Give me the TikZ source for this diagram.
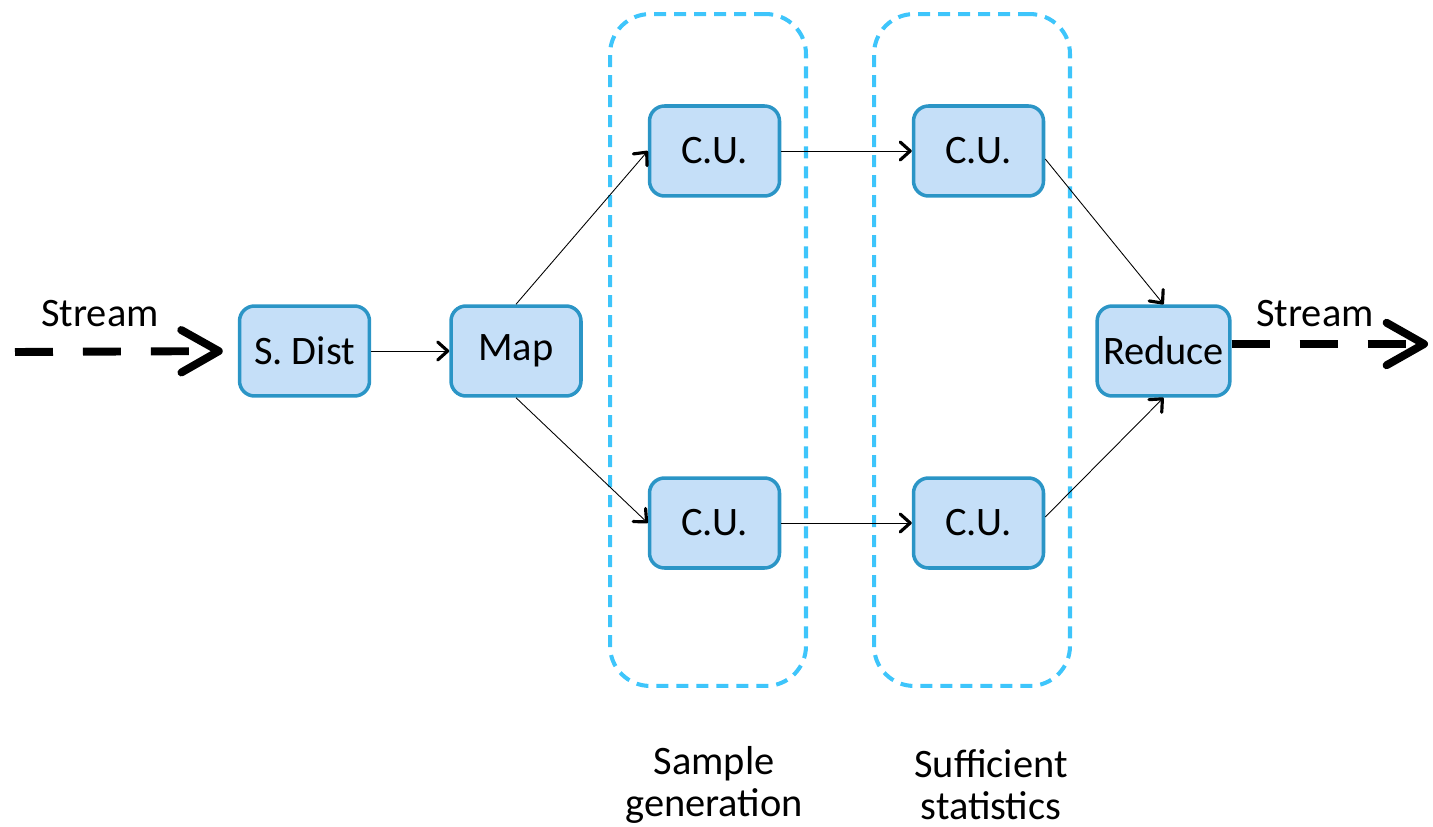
\documentclass[tikz,border=0pt]{standalone}
\usepackage{fontspec}
\setmainfont{Carlito}
\usetikzlibrary{shapes,positioning,arrows.meta,calc}
\usepackage{xcolor}
\definecolor{boxfill}{HTML}{C5DFF8}
\definecolor{boxline}{HTML}{2B95C6}
\definecolor{groupline}{HTML}{3EC5FB}

\tikzset{
  unit/.style={rectangle,rounded corners=0.3cm,draw=boxline,fill=boxfill,line width=2pt,
    minimum width=2.6cm,minimum height=1.8cm,font=\fontsize{23}{24}\selectfont},
  group/.style={rectangle,rounded corners=0.8cm,draw=groupline,line width=2.3pt,
    dash pattern=on 0.24cm off 0.16cm,minimum width=3.92cm,minimum height=13.44cm},
  lbl/.style={font=\fontsize{23}{24}\selectfont,align=center},
  stream/.style={line width=4.5pt,dash pattern=on 0.76cm off 0.6cm,
    -{Straight Barb[round,length=0.75cm,width=0.85cm]}},
  flow/.style={line width=0.5pt,-{Straight Barb[round,line width=1.8pt,length=0.2cm,width=0.36cm]}}
}

\begin{document}
\begin{tikzpicture}[x=0.02cm,y=-0.02cm]
          \useasboundingbox (0,0) rectangle (1433,827);
          \begin{scope}[>=stealth]
            % groups
            \node (sg) at (708,350) [group]{};
            \node (ss) at (972,350) [group]{};
            \node (sglabel) at (714,785) [lbl]{Sample\\generation};
            \node (sslabel) at (991,785) [lbl]{Sufficient\\statistics};

            \node (sdist) at (304.5,351) [unit]{S. Dist};
            \node (map) at (516,351) [unit]{Map};
            \node (cu1) at (714.5,151) [unit]{C.U.};
            \node (cu2) at (714.5,523) [unit]{C.U.};
            \node (cu3) at (978.5,151) [unit]{C.U.};
            \node (cu4) at (978.5,523) [unit]{C.U.};
            \node (reduce) at (1163.5,351) [unit]{Reduce};

            \node (instream) at (100,314) [lbl]{Stream};
            \node (outstream) at (1315,314) [lbl]{Stream};
            \coordinate (streamin) at (15,352);
            \coordinate (streamout) at (1428,344);

            \draw[stream,shorten >=0.3cm] (streamin) -- (sdist.west);
            \draw[stream] (reduce.east |- streamout) -- (streamout);

            \draw[flow] (sdist) -- (map);
            \draw[flow] (map.north) -- (cu1.west);
            \draw[flow] (map.south) -- (cu2.west);
            \draw[flow] (cu1) -- (cu3);
            \draw[flow] (cu2) -- (cu4);
            \draw[flow] ($(cu3.east)+(0,8)$) -- (reduce.north);
            \draw[flow] ($(cu4.east)+(0,-6)$) -- (reduce.south);

          \end{scope}
          \end{tikzpicture}
\end{document}
